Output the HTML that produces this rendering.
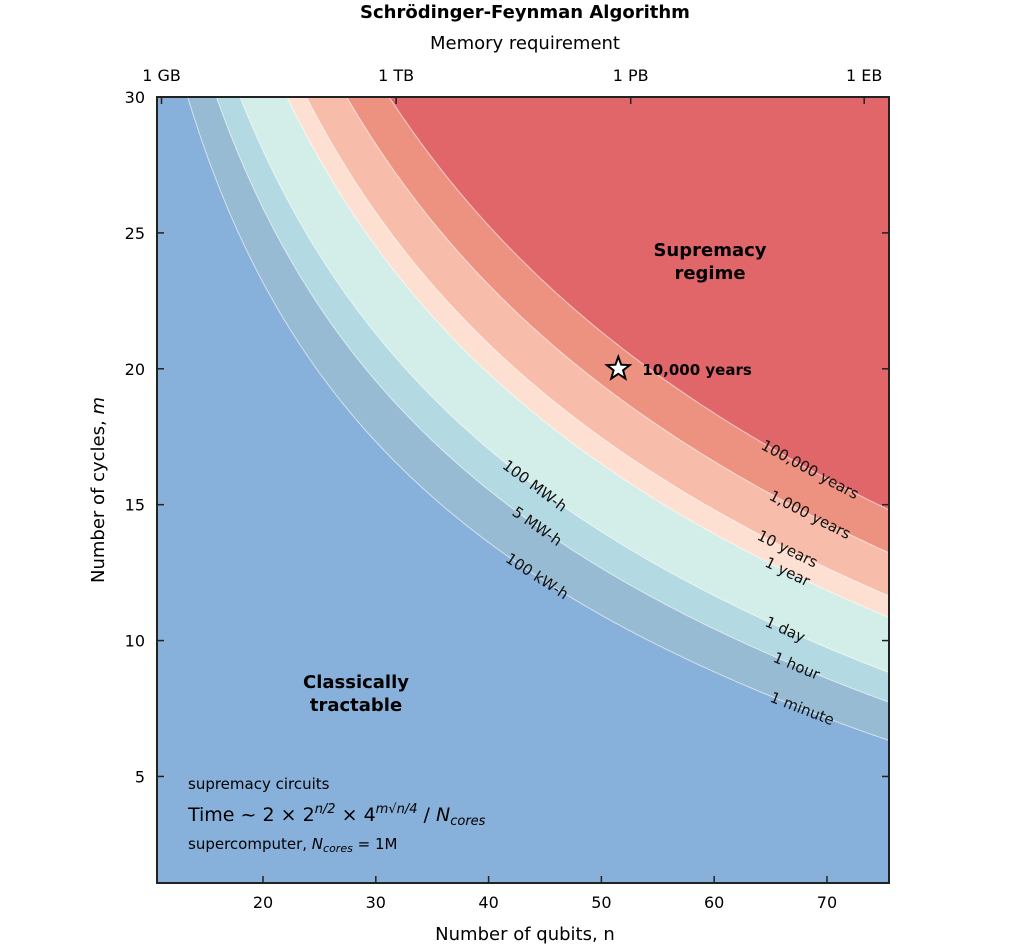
<!DOCTYPE html>
<html><head><meta charset="utf-8"><style>
body{margin:0;background:#fff;font-family:"Liberation Sans","DejaVu Sans",sans-serif;}
svg text{font-family:"DejaVu Sans","Liberation Sans",sans-serif;}
</style></head><body>
<svg id="chart" width="1024" height="946" xmlns="http://www.w3.org/2000/svg">
<defs><clipPath id="pc"><rect x="157" y="97" width="732" height="786"/></clipPath></defs>
<text x="525" y="18" text-anchor="middle" font-size="18" font-weight="bold">Schrödinger-Feynman Algorithm</text>
<text x="525" y="49" text-anchor="middle" font-size="18">Memory requirement</text>
<g id="plot" clip-path="url(#pc)"></g>
<g id="labels"></g>
<rect x="157" y="97" width="732" height="786" fill="none" stroke="#222" stroke-width="2"/>
<g id="axes"></g>
<text x="525" y="940" text-anchor="middle" font-size="18">Number of qubits, n</text>
<text transform="translate(104,490) rotate(-90)" text-anchor="middle" font-size="18">Number of cycles, <tspan font-style="italic">m</tspan></text>
<text x="710" y="256" text-anchor="middle" font-size="18" font-weight="bold">Supremacy<tspan x="710" dy="23">regime</tspan></text>
<text x="356" y="688" text-anchor="middle" font-size="18" font-weight="bold">Classically<tspan x="356" dy="23">tractable</tspan></text>
<text x="188" y="789" font-size="15">supremacy circuits</text>
<text x="188" y="821" font-size="19">Time ~ 2 × 2<tspan font-size="13" dy="-8" font-style="italic">n/2</tspan><tspan dy="8"> × 4</tspan><tspan font-size="13" dy="-8" font-style="italic">m√n/4</tspan><tspan dy="8"> / </tspan><tspan font-style="italic">N</tspan><tspan font-size="13" dy="4" font-style="italic">cores</tspan></text>
<text x="188" y="849" font-size="15">supercomputer, <tspan font-style="italic">N</tspan><tspan font-size="11" dy="3" font-style="italic">cores</tspan><tspan dy="-3"> = 1M</tspan></text>
</svg>
<script>
// data
const levelNames = ["100,000 years","1,000 years","10 years","1 year","1 day","1 hour","1 minute"];
const levelSeconds = [3.156e12, 3.156e10, 3.156e8, 3.156e7, 86400, 3600, 60];
const belowColors = ["#ed9180","#f8bdaa","#fde0d2","#d3eee9","#b3d9e2","#97bbd2","#87b0da"];
const topColor = "#e1666a";
const labelN = [68.5, 68.5, 66.5, 66.5, 66.3, 67.3, 67.8];
const energyNames = ["100 MW-h","5 MW-h","100 kW-h"];
const energyLevelIdx = [4,5,6];
const energyN = [44.1, 44.3, 44.3];
const xTicks = [20,30,40,50,60,70];
const yTicks = [5,10,15,20,25,30];
const memLabels = ["1 GB","1 TB","1 PB","1 EB"];
const memQubits = [11.0, 31.8, 52.6, 73.3];
const starPoint = [51.5, 20];
const starLabel = "10,000 years";

const NS="http://www.w3.org/2000/svg";
const X0=157,X1=889,Y0=97,Y1=883, NMIN=10.6,NMAX=75.5,MMIN=1.08,MMAX=30;
const sx=n=>X0+(n-NMIN)/(NMAX-NMIN)*(X1-X0);
const sy=m=>Y1-(m-MMIN)/(MMAX-MMIN)*(Y1-Y0);
const fLevel=s=>62.1+1.18*Math.log2(s);
const mOn=(n,s)=>(fLevel(s)-n/2)/(0.57*Math.sqrt(n));
function mk(tag,attrs,parent){const e=document.createElementNS(NS,tag);for(const k in attrs)e.setAttribute(k,attrs[k]);parent.appendChild(e);return e;}
const plot=document.getElementById('plot'), labels=document.getElementById('labels'), axes=document.getElementById('axes');
let r=mk('rect',{x:X0,y:Y0,width:X1-X0,height:Y1-Y0,fill:topColor},plot);


function curvePts(s){const p=[];for(let i=0;i<=200;i++){const n=NMIN+(NMAX-NMIN)*i/200;let m=mOn(n,s);m=Math.max(-5,Math.min(40,m));p.push([sx(n),sy(m)]);}return p;}
levelSeconds.forEach((s,i)=>{
  const p=curvePts(s);
  const d="M"+p.map(q=>q[0].toFixed(1)+","+q[1].toFixed(1)).join("L")+"L"+X1+","+(Y1+50)+"L"+X0+","+(Y1+50)+"Z";
  const a=mk('path',{d:d,fill:belowColors[i]},plot);
  
  
});
levelSeconds.forEach((s,i)=>{
  const p=curvePts(s);
  const l=mk('path',{d:"M"+p.map(q=>q[0].toFixed(1)+","+q[1].toFixed(1)).join("L"),fill:"none",stroke:"#fff","stroke-opacity":"0.6","stroke-width":"1"},plot);
  
  
});
function placeLabel(txt,n,s,name){
  const x=sx(n),y=sy(mOn(n,s));
  const x2=sx(n+0.5),y2=sy(mOn(n+0.5,s));
  const ang=Math.atan2(y2-y,x2-x)*180/Math.PI;
  const t=mk('text',{transform:`translate(${x.toFixed(1)},${y.toFixed(1)}) rotate(${ang.toFixed(1)})`,"text-anchor":"middle","dominant-baseline":"central","font-size":"15",fill:"#111"},labels);
  t.textContent=txt;
  
  
}
levelNames.forEach((nm,i)=>placeLabel(nm,labelN[i],levelSeconds[i],'contour-label'));
energyNames.forEach((nm,i)=>placeLabel(nm,energyN[i],levelSeconds[energyLevelIdx[i]],'energy-label'));
// star
(function(){const cx=sx(starPoint[0]),cy=sy(starPoint[1]);let pts=[];for(let k=0;k<10;k++){const rr=k%2?5:12;const a=-Math.PI/2+k*Math.PI/5;pts.push((cx+rr*Math.cos(a)).toFixed(1)+","+(cy+rr*Math.sin(a)).toFixed(1));}
const st=mk('polygon',{points:pts.join(" "),fill:"#fff",stroke:"#000","stroke-width":"2"},labels);


const t=mk('text',{x:cx+24,y:cy+6,"font-size":"15","font-weight":"bold"},labels);t.textContent=starLabel;

})();
// axes
xTicks.forEach(v=>{const x=sx(v);
 const tk=mk('line',{x1:x,x2:x,y1:Y1,y2:Y1-7,stroke:"#222","stroke-width":"1.5"},axes);
 
 
 const t=mk('text',{x:x,y:Y1+25,"text-anchor":"middle","font-size":"16"},axes);t.textContent=v;
 
 });
yTicks.forEach(v=>{const y=sy(v);
 [[X0,X0+7],[X1,X1-7]].forEach(([a,b])=>{const tk=mk('line',{x1:a,x2:b,y1:y,y2:y,stroke:"#222","stroke-width":"1.5"},axes);
 
 });
 const t=mk('text',{x:X0-12,y:y+6,"text-anchor":"end","font-size":"16"},axes);t.textContent=v;
 
 });
memLabels.forEach((lb,i)=>{const x=sx(memQubits[i]);
 const tk=mk('line',{x1:x,x2:x,y1:Y0,y2:Y0+7,stroke:"#222","stroke-width":"1.5"},axes);
 
 
 const t=mk('text',{x:x,y:Y0-16,"text-anchor":"middle","font-size":"16"},axes);t.textContent=lb;
 
 });
</script>
</body></html>
